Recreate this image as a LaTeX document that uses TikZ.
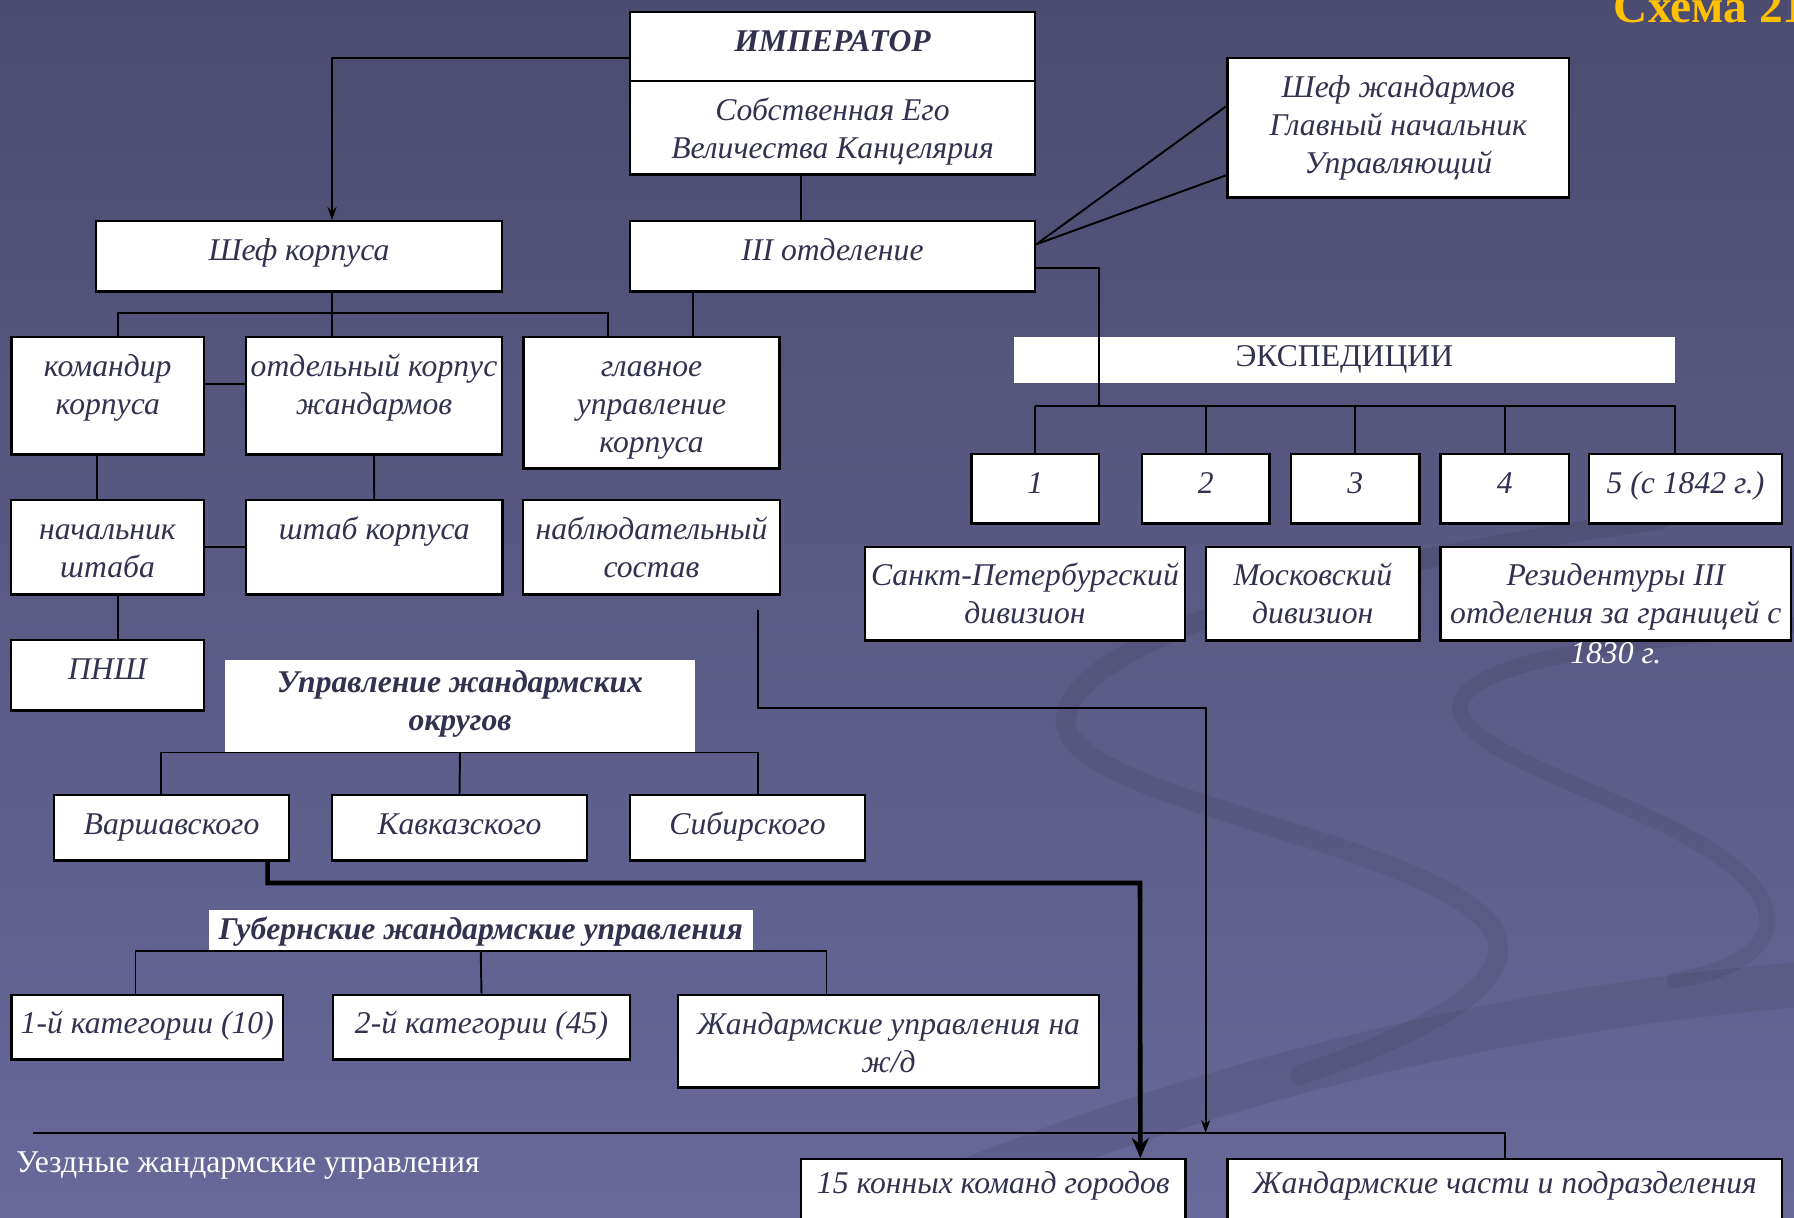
\documentclass[tikz,border=0pt]{standalone}
\usepackage{fontspec}
\setmainfont{Liberation Serif}
\usepackage{tikz}
\definecolor{bgtop}{RGB}{76,76,112}
\definecolor{bgbottom}{RGB}{104,104,154}
\definecolor{ink}{RGB}{50,50,80}
\definecolor{gold}{RGB}{255,192,0}
\usetikzlibrary{arrows.meta}

\begin{document}
\begin{tikzpicture}[x=0.01cm, y=-0.01cm]
        \tikzset{every node/.style={text=ink, align=center, anchor=north, inner xsep=1pt, inner ysep=0pt,
                        text height=0.39cm, font=\fontsize{9}{10.8}\selectfont\itshape},
                box/.style={draw=black, line width=0.7pt, fill=white},
                tag/.style={fill=white},
                two/.style={text height=0.771cm},
                three/.style={text height=1.152cm},
                heavy/.style={font=\fontsize{9}{10.8}\selectfont\bfseries\itshape},
                >={Stealth[length=1.3mm, width=0.9mm]},
                link/.style={draw=black, line width=0.55pt}}

        % background
        \useasboundingbox (0,0) rectangle (1794,1217);
        \shade[top color=bgtop, bottom color=bgbottom] (0,0) rectangle (1794,1217);
        \begin{scope}[black, opacity=0.07, line cap=round]
        \draw[line width=0.2cm] (1660,520) .. controls (1350,560) and (1060,640) .. (1066,724)
                .. controls (1075,800) and (1420,840) .. (1490,925) .. controls (1530,980) and (1420,1035) .. (1300,1075);
        \draw[line width=0.16cm] (1794,625) .. controls (1640,640) and (1455,660) .. (1460,710)
                .. controls (1470,770) and (1740,820) .. (1766,910) .. controls (1778,950) and (1720,975) .. (1675,980);
        \draw[line width=0.45cm] (880,1217) .. controls (1200,1080) and (1500,1010) .. (1794,985);
        \end{scope}

        \node[anchor=base west, text=gold, font=\fontsize{13.5}{14}\selectfont\bfseries, inner xsep=0pt] (title) at (1613,22) {Схема 21};

        % top level
        \node[box, heavy, minimum width=4.05cm, text depth=0.30cm] (emp) at (832.5,11) {ИМПЕРАТОР};
        \node[box, two, minimum width=4.05cm, text depth=0.159cm] (chanc) at (832.5,80) {Собственная Его\\Величества Канцелярия};
        \node[box, three, minimum width=3.415cm, text depth=0.238cm] (shef) at (1398.25,57) {Шеф жандармов\\Главный начальник\\Управляющий};
        \node[box, minimum width=4.06cm, text depth=0.31cm] (chief) at (299,220) {Шеф корпуса};
        \node[box, minimum width=4.05cm, text depth=0.31cm] (third) at (832.5,220) {III отделение};

        % corps
        \node[box, two, minimum width=1.925cm, text depth=0.399cm] (kom) at (107.75,336) {командир\\корпуса};
        \node[box, two, minimum width=2.56cm, text depth=0.399cm] (otd) at (374,336) {отдельный корпус\\жандармов};
        \node[box, three, minimum width=2.56cm, text depth=0.158cm] (glav) at (651.5,336) {главное\\управление\\корпуса};
        \node[box, two, minimum width=1.93cm, text depth=0.169cm] (nach) at (107.5,499) {начальник\\штаба};
        \node[box, minimum width=2.565cm, text depth=0.55cm] (shtab) at (374.25,499) {штаб корпуса};
        \node[box, two, minimum width=2.57cm, text depth=0.169cm] (nabl) at (651.5,499) {наблюдательный\\состав};
        \node[box, minimum width=1.93cm, text depth=0.31cm] (pnsh) at (107.5,639) {ПНШ};

        % districts
        \node[tag, heavy, minimum width=4.70cm, text height=0.711cm, text depth=0.209cm] (okr) at (460,659) {Управление жандармских\\округов};
        \node[box, minimum width=2.35cm, text depth=0.26cm] (war) at (171.5,794) {Варшавского};
        \node[box, minimum width=2.55cm, text depth=0.26cm] (kav) at (459.5,794) {Кавказского};
        \node[box, minimum width=2.35cm, text depth=0.26cm] (sib) at (747.5,794) {Сибирского};

        % provinces
        \node[tag, heavy, minimum width=5.435cm, text height=0.30cm, text depth=0.11cm] (gub) at (480.75,909) {Губернские жандармские управления};
        \node[box, minimum width=2.715cm, text depth=0.255cm] (cat1) at (147.25,993.5) {1-й категории (10)};
        \node[box, minimum width=2.97cm, text depth=0.255cm] (cat2) at (481.5,993.5) {2-й категории (45)};
        \node[box, two, minimum width=4.21cm, text depth=0.149cm] (zhd) at (888.5,994) {Жандармские управления на\\ж/д};

        % expeditions
        \node[tag, minimum width=6.61cm, text height=0.30cm, text depth=0.166cm, font=\fontsize{9}{10.8}\selectfont] (exp) at (1344.35,336) {ЭКСПЕДИЦИИ};
        \node[box, minimum width=1.274cm, text depth=0.30cm] (e1) at (1035.3,453) {1};
        \node[box, minimum width=1.276cm, text depth=0.30cm] (e2) at (1205.8,453) {2};
        \node[box, minimum width=1.285cm, text depth=0.30cm] (e3) at (1355.25,453) {3};
        \node[box, minimum width=1.284cm, text depth=0.30cm] (e4) at (1504.8,453) {4};
        \node[box, minimum width=1.93cm, text depth=0.30cm] (e5) at (1685.5,453) {5 (с 1842 г.)};
        \node[box, two, minimum width=3.20cm, text depth=0.164cm] (spb) at (1025,545.5) {Санкт-Петербургский\\дивизион};
        \node[box, two, minimum width=2.135cm, text depth=0.164cm] (msk) at (1312.75,545.5) {Московский\\дивизион};
        \node[box, two, minimum width=3.504cm, text depth=0.164cm,
                label={[text=white, label distance=-0.173cm]below:1830 г.}] (rez) at (1615.8,545.5) {Резидентуры III\\отделения за границей с};

        % district level
        \node[anchor=base west, text=white, inner xsep=0pt, font=\fontsize{9}{10.8}\selectfont] (uezd) at (15.5,1172) {Уездные жандармские управления};
        \node[box, minimum width=3.845cm, text height=0.34cm, text depth=0.46cm] (kon) at (993.25,1158) {15 конных команд городов};
        \node[box, minimum width=5.545cm, text height=0.34cm, text depth=0.46cm] (chasti) at (1504.75,1158) {Жандармские части и подразделения};

        \coordinate (corpsbar) at (332,313);
        \coordinate (expbar) at (1098.6,406);
        \coordinate (e5top) at ([xshift=-1.05mm]e5.north);
        \coordinate (obsfoot) at (758,610);
        \coordinate (obsturn) at (1205.6,708);
        \coordinate (warturn) at (1140,883);
        \coordinate (uezdbar) at (33,1133);

        \draw[link, ->] ([yshift=-1.15mm]emp.west) -| ([xshift=3.3mm]chief.north);
        \draw[link] ([xshift=-3.15mm]chanc.south) -- ([xshift=-3.15mm]third.north);
        \draw[link] ([yshift=1.2mm]third.east) -- ([yshift=2.15mm]shef.west);
        \draw[link] ([yshift=1.2mm]third.east) -- ([yshift=-4.75mm]shef.west);

        \draw[link] ([yshift=-1.15mm]third.east) -| (expbar);
        \draw[link] (expbar -| e1.north) -- (expbar -| e5top) -- (e5top);
        \foreach \n in {e1,e2,e3,e4}
                \draw[link] (expbar -| \n.north) -- (\n.north);

        \draw[link] ([xshift=3.3mm]chief.south) -- (corpsbar);
        \draw[link] ([xshift=1.03mm]kom.north) |- (corpsbar) -| ([xshift=-4.35mm]glav.north);
        \draw[link] (corpsbar) -- (corpsbar |- otd.north);
        \draw[link] ([xshift=-13.95mm]third.south) -- ([xshift=-13.95mm]third.south |- glav.north);

        \draw[link] ([yshift=1.15mm]kom.east) -- ([yshift=1.15mm]kom.east -| otd.west);
        \draw[link] ([xshift=-1.05mm]kom.south) -- ([xshift=-1.05mm]kom.south |- nach.north);
        \draw[link] (otd.south) -- (shtab.north);
        \draw[link] (nach.east) -- (shtab.west);
        \draw[link] ([xshift=1.05mm]nach.south) -- ([xshift=1.05mm]nach.south |- pnsh.north);

        \draw[link, ->] (obsfoot) |- (obsturn) -- (obsturn |- uezdbar);

        \draw[link] ([xshift=-1.05mm]war.north) |- (okr.south) -| ([xshift=1.05mm]sib.north);
        \draw[link] (okr.south) -- (kav.north);
        \draw[line width=1.3pt, -{Stealth[length=2mm, width=1.7mm]}] ([xshift=9.6mm]war.south) |- (warturn) -- ([xshift=14.7mm]kon.north);

        \draw[link] ([xshift=-1.175mm]cat1.north) |- (gub.south) -| ([xshift=-6.2mm]zhd.north);
        \draw[link] (gub.south) -- (cat2.north);

        \draw[link] (uezdbar) -| (chasti.north);

\end{tikzpicture}
\end{document}
